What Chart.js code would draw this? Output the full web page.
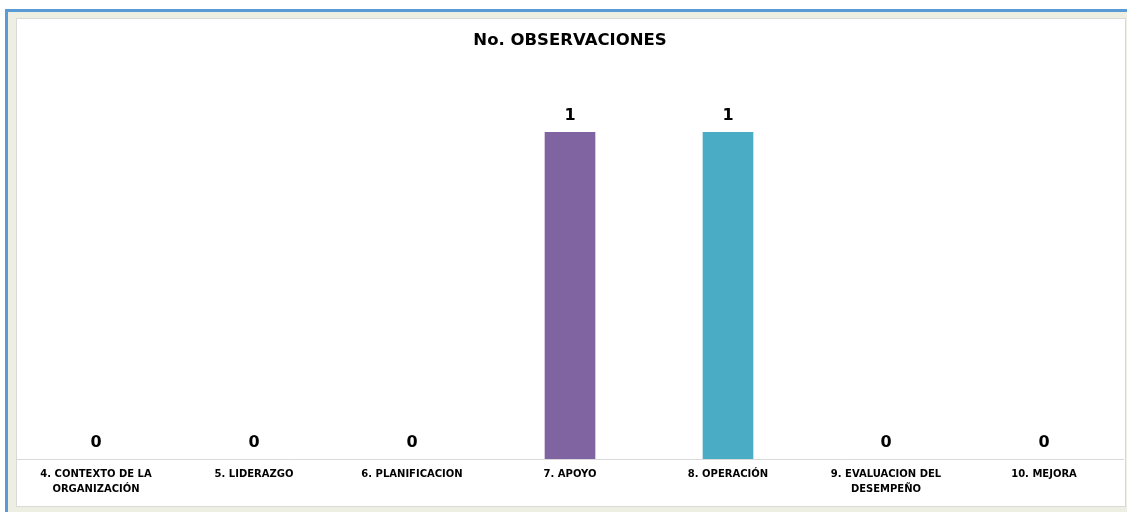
<!DOCTYPE html>
<html>
<head>
<meta charset="utf-8">
<script src="https://cdn.jsdelivr.net/npm/chart.js@4.4.0/dist/chart.umd.min.js"></script>
<style>
    html, body { margin: 0; padding: 0; width: 1127px; height: 512px; overflow: hidden; background: #ffffff; }
    #frame {
        position: absolute; left: 5px; top: 9px; width: 1200px; height: 600px;
        border: 3px solid #5B9BD5; background: #ECEFE2;
    }
    #plot {
        position: absolute; left: 16px; top: 18px; width: 1108px; height: 487px;
        border: 1px solid #D9D9D9; background: #ffffff;
    }
    #chart { display: block; }
</style>
</head>
<body>
<div id="frame"></div>
<div id="plot"><canvas id="chart" width="1108" height="487"></canvas></div>
<script>
const categories = [
    ['4. CONTEXTO DE LA', 'ORGANIZACIÓN'],
    '5. LIDERAZGO',
    '6. PLANIFICACION',
    '7. APOYO',
    '8. OPERACIÓN',
    ['9. EVALUACION DEL', 'DESEMPEÑO'],
    '10. MEJORA'
];
const observaciones = [0, 0, 0, 1, 1, 0, 0];
const barColors = ['#8064A2', '#8064A2', '#8064A2', '#8064A2', '#4BACC6', '#8064A2', '#8064A2'];

const FONT = "'DejaVu Sans', 'Liberation Sans', sans-serif";

// etiquetas de valor encima de cada barra
const valueLabels = {
    id: 'valueLabels',
    afterDatasetsDraw(chart) {
        const ctx = chart.ctx;
        const meta = chart.getDatasetMeta(0);
        ctx.save();
        ctx.font = `bold 16px ${FONT}`;
        ctx.fillStyle = '#000000';
        ctx.textAlign = 'center';
        ctx.textBaseline = 'middle';
        meta.data.forEach((bar, i) => {
            ctx.fillText(String(chart.data.datasets[0].data[i]), bar.x, bar.y - 16);
        });
        ctx.restore();
    }
};

new Chart(document.getElementById('chart').getContext('2d'), {
    type: 'bar',
    data: {
        labels: categories,
        datasets: [{
            label: 'No. OBSERVACIONES',
            data: observaciones,
            // las barras en cero no dejan marca
            backgroundColor: (c) => observaciones[c.dataIndex] === 0 ? 'rgba(0,0,0,0)' : barColors[c.dataIndex],
            borderWidth: 0,
            barThickness: 50
        }]
    },
    options: {
        responsive: false,
        animation: false,
        layout: { padding: { left: 0, right: 2, top: 0, bottom: 0 } },
        plugins: {
            legend: { display: false },
            tooltip: { enabled: false },
            title: {
                display: true,
                text: 'No. OBSERVACIONES',
                color: '#000000',
                font: { family: FONT, size: 16.5, weight: 'bold', lineHeight: 1.2 },
                padding: { top: 12, bottom: 81.2 }
            }
        },
        scales: {
            x: {
                grid: { display: false, drawTicks: false },
                border: { display: true, color: '#D9D9D9', width: 1 },
                ticks: {
                    color: '#000000',
                    padding: 8,
                    maxRotation: 0,
                    autoSkip: false,
                    font: { family: FONT, size: 10, weight: 'bold', lineHeight: 1.5 }
                },
                afterFit(scale) { scale.height = 47; }
            },
            y: {
                display: false,
                min: 0,
                max: 1
            }
        }
    },
    plugins: [valueLabels]
});
</script>
</body>
</html>
